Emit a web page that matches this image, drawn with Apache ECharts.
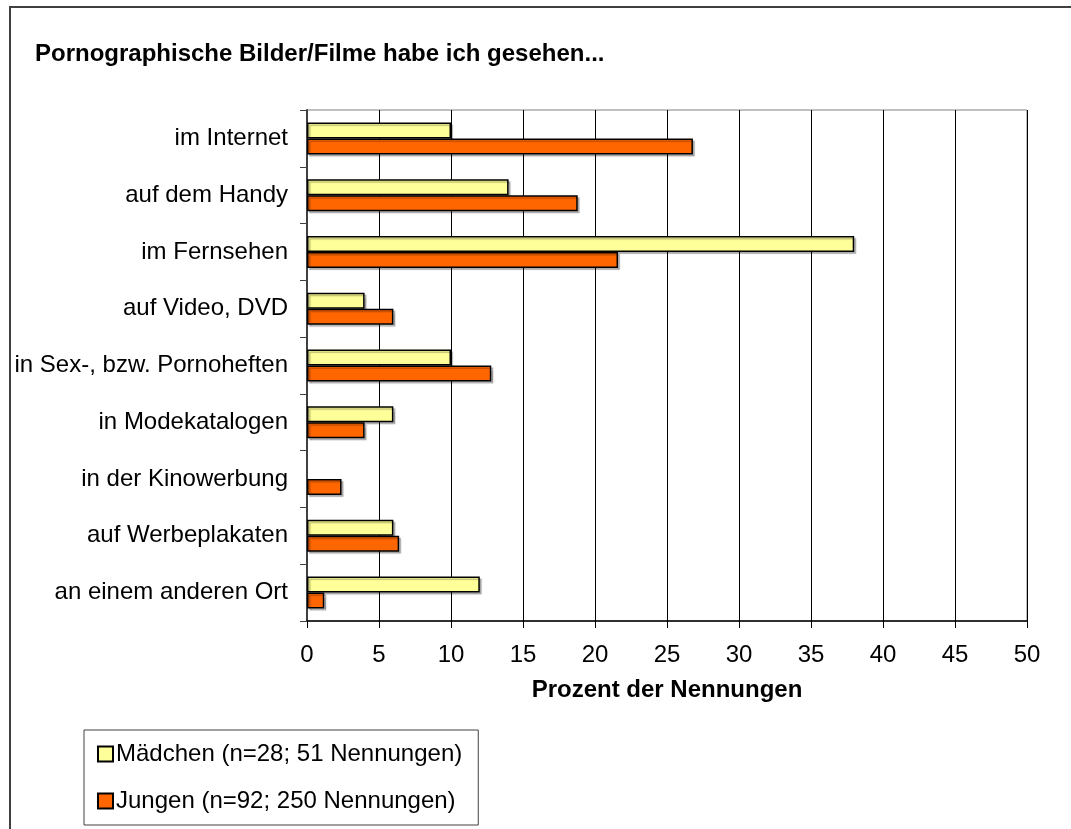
<!DOCTYPE html>
<html>
<head>
<meta charset="utf-8">
<script src="https://cdn.jsdelivr.net/npm/echarts@6/dist/echarts.min.js"></script>
<style>
  html, body { margin: 0; padding: 0; background: #fff; }
  #chart { width: 1071px; height: 829px; }
</style>
</head>
<body>
<div id="chart"></div>
<script>
// Kategorien (von oben nach unten)
const categories = [
  'im Internet',
  'auf dem Handy',
  'im Fernsehen',
  'auf Video, DVD',
  'in Sex-, bzw. Pornoheften',
  'in Modekatalogen',
  'in der Kinowerbung',
  'auf Werbeplakaten',
  'an einem anderen Ort'
]

// Prozentwerte je Gruppe (null = kein Balken)
const maedchen = [10, 14, 38, 4, 10, 6, null, 6, 12]
const jungen = [26.8, 18.8, 21.6, 6, 12.8, 4, 2.4, 6.4, 1.2]

const seriesNames = ['Mädchen (n=28; 51 Nennungen)', 'Jungen (n=92; 250 Nennungen)']
const colors = ['#FFFF99', '#FF6600']
const xTicks = { min: 0, max: 50, interval: 5 }

const font = "'Liberation Sans', Arial, sans-serif"

const chart = echarts.init(document.getElementById('chart'))

const barSeries = [maedchen, jungen].map((values, i) => ({
  name: seriesNames[i],
  type: 'bar',
  data: values,
  barWidth: 16,
  barGap: '0%',
  itemStyle: {
    color: colors[i],
    borderColor: '#000',
    borderWidth: 1.5,
    shadowColor: 'rgba(0,0,0,0.25)',
    shadowOffsetX: 2,
    shadowOffsetY: 2,
    shadowBlur: 1
  }
}))

const option = {
  animation: false,
  backgroundColor: '#fff',
  textStyle: { fontFamily: font },
  title: {
    text: 'Pornographische Bilder/Filme habe ich gesehen...',
    left: 30,
    top: 37,
    textStyle: { fontFamily: font, fontSize: 24, fontWeight: 'bold', color: '#000' }
  },
  // Rahmen des Diagrammbereichs
  graphic: [{
    type: 'rect',
    shape: { x: 10, y: 7, width: 1100, height: 900 },
    style: { fill: 'none', stroke: '#404040', lineWidth: 2 },
    silent: true
  }],
  legend: {
    orient: 'vertical',
    left: 84,
    top: 730,
    padding: [12, 16, 12, 13],
    itemGap: 23,
    itemWidth: 15,
    itemHeight: 15,
    icon: 'rect',
    borderColor: '#404040',
    borderWidth: 1,
    data: seriesNames,
    textStyle: { fontFamily: font, fontSize: 24, color: '#000', padding: [0, 0, 0, -2] }
  },
  grid: {
    left: 307,
    right: 44,
    top: 110,
    bottom: 208,
    show: true,
    borderColor: '#808080',
    borderWidth: 1,
    containLabel: false
  },
  xAxis: {
    type: 'value',
    min: xTicks.min,
    max: xTicks.max,
    interval: xTicks.interval,
    name: 'Prozent der Nennungen',
    nameLocation: 'middle',
    nameGap: 57,
    nameTextStyle: { fontFamily: font, fontSize: 24, fontWeight: 'bold', color: '#000' },
    axisLine: { show: true, lineStyle: { color: '#000', width: 1.5 } },
    axisTick: { show: true, length: 7, lineStyle: { color: '#000', width: 1 } },
    axisLabel: { fontFamily: font, fontSize: 24, color: '#000', margin: 22 },
    splitLine: { show: true, lineStyle: { color: '#000', width: 1 } }
  },
  yAxis: {
    type: 'category',
    inverse: true,
    data: categories,
    axisLine: { show: true, lineStyle: { color: '#404040', width: 2 } },
    axisTick: { show: true, length: 7, lineStyle: { color: '#404040', width: 1 } },
    axisLabel: { fontFamily: font, fontSize: 24, color: '#000', margin: 19 },
    splitLine: { show: false }
  },
  series: barSeries
}

chart.setOption(option)
</script>
</body>
</html>
